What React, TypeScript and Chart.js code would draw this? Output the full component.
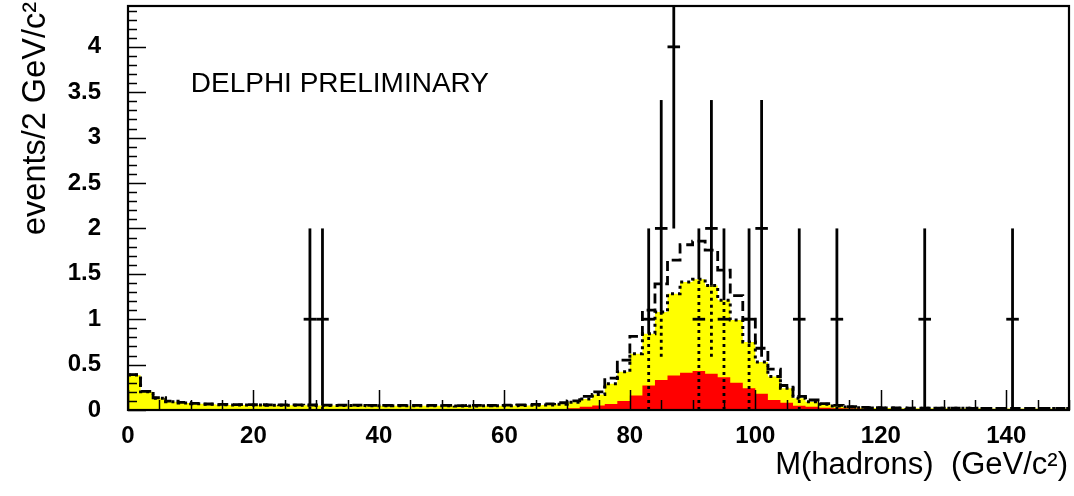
import React, { useEffect, useRef } from 'react';
import { Chart, registerables } from 'chart.js';

Chart.register(...registerables);

const X_MIN = 0;
const X_MAX = 150;
const BIN_WIDTH = 2;
const Y_MIN = 0;
const Y_MAX = 4.45;

// total expectation (yellow, dotted outline), 2 GeV/c^2 bins from 0 to 150
const yellowValues = [
  0.385, 0.200, 0.130, 0.092, 0.078, 0.068, 0.062, 0.058, 0.056, 0.055,
  0.054, 0.053, 0.052, 0.052, 0.051, 0.050, 0.050, 0.049, 0.049, 0.048,
  0.048, 0.047, 0.047, 0.046, 0.046, 0.046, 0.045, 0.045, 0.046, 0.047,
  0.048, 0.050, 0.053, 0.056, 0.062, 0.085, 0.120, 0.170, 0.290, 0.420,
  0.620, 0.840, 1.080, 1.280, 1.410, 1.440, 1.370, 1.210, 0.990, 0.750,
  0.530, 0.370, 0.240, 0.130, 0.090, 0.062, 0.044, 0.032, 0.026, 0.023,
  0.021, 0.020, 0.020, 0.019, 0.019, 0.018, 0.018, 0.018, 0.017, 0.017,
  0.017, 0.016, 0.016, 0.016, 0.016,
];

// red component
const redValues = [
  0.010, 0.008, 0.007, 0.006, 0.006, 0.005, 0.005, 0.005, 0.005, 0.005,
  0.005, 0.005, 0.005, 0.005, 0.005, 0.005, 0.005, 0.005, 0.005, 0.005,
  0.005, 0.005, 0.005, 0.005, 0.005, 0.005, 0.005, 0.005, 0.006, 0.006,
  0.007, 0.008, 0.009, 0.010, 0.012, 0.020, 0.035, 0.050, 0.065, 0.100,
  0.160, 0.270, 0.330, 0.380, 0.410, 0.430, 0.400, 0.360, 0.300, 0.240,
  0.180, 0.110, 0.080, 0.048, 0.035, 0.026, 0.020, 0.016, 0.013, 0.012,
  0.012, 0.011, 0.011, 0.011, 0.010, 0.010, 0.010, 0.010, 0.010, 0.010,
  0.010, 0.010, 0.010, 0.010, 0.010,
];

// dashed expectation
const dashedValues = [
  0.390, 0.205, 0.135, 0.098, 0.083, 0.072, 0.066, 0.062, 0.060, 0.059,
  0.058, 0.057, 0.056, 0.056, 0.055, 0.054, 0.054, 0.053, 0.053, 0.052,
  0.052, 0.051, 0.051, 0.050, 0.050, 0.050, 0.049, 0.050, 0.051, 0.052,
  0.054, 0.057, 0.062, 0.068, 0.080, 0.100, 0.150, 0.200, 0.350, 0.550,
  0.810, 1.100, 1.390, 1.650, 1.820, 1.860, 1.760, 1.540, 1.260, 1.000,
  0.680, 0.450, 0.270, 0.150, 0.110, 0.070, 0.050, 0.036, 0.028, 0.025,
  0.023, 0.022, 0.021, 0.021, 0.020, 0.020, 0.020, 0.019, 0.019, 0.019,
  0.018, 0.018, 0.018, 0.018, 0.018,
];

// observed data (bin centres and counts)
const dataX = [29, 31, 83, 85, 87, 91, 93, 95, 99, 101, 107, 113, 127, 141];
const dataY = [1, 1, 1, 2, 4, 1, 2, 1, 1, 2, 1, 1, 1, 1];

const xTickLabels = [0, 20, 40, 60, 80, 100, 120, 140];
const yTickLabels = [0, 0.5, 1, 1.5, 2, 2.5, 3, 3.5, 4];

const X_TITLE = 'M(hadrons)  (GeV/c²)';
const Y_TITLE = 'events/2 GeV/c²';
const PLOT_LABEL = 'DELPHI PRELIMINARY';

const FONT_FAMILY = '"Liberation Sans", Arial, Helvetica, sans-serif';

function toSteps(values: number[]) {
  const pts = values.map((v, i) => ({ x: X_MIN + i * BIN_WIDTH, y: v }));
  pts.push({ x: X_MAX, y: values[values.length - 1] });
  return pts;
}

function line(ctx: CanvasRenderingContext2D, x1: number, y1: number, x2: number, y2: number) {
  ctx.beginPath();
  ctx.moveTo(x1, y1);
  ctx.lineTo(x2, y2);
  ctx.stroke();
}

const errorBarsPlugin = {
  id: 'errorBars',
  afterDatasetsDraw(chart: any) {
    const { ctx, chartArea } = chart;
    const xs = chart.scales.x;
    const ys = chart.scales.y;
    ctx.save();
    ctx.beginPath();
    ctx.rect(chartArea.left, chartArea.top, chartArea.right - chartArea.left, chartArea.bottom - chartArea.top);
    ctx.clip();
    ctx.strokeStyle = '#000';
    ctx.lineWidth = 2.8;
    ctx.lineCap = 'butt';
    dataX.forEach((xv, i) => {
      const v = dataY[i];
      const e = Math.sqrt(v);
      const lo = Math.max(Y_MIN, v - e);
      const hi = v + e;
      const bin = Math.floor((xv - X_MIN) / BIN_WIDTH);
      const mc = yellowValues[bin];
      const px = xs.getPixelForValue(xv);
      const solidLo = Math.max(lo, mc);
      if (hi > solidLo) {
        ctx.setLineDash([]);
        line(ctx, px, ys.getPixelForValue(solidLo), px, ys.getPixelForValue(hi));
      }
      if (lo < mc) {
        ctx.setLineDash([3, 4]);
        line(ctx, px, ys.getPixelForValue(lo), px, ys.getPixelForValue(Math.min(hi, mc)));
      }
      ctx.setLineDash([]);
      const py = ys.getPixelForValue(v);
      line(ctx, xs.getPixelForValue(xv - BIN_WIDTH / 2), py, xs.getPixelForValue(xv + BIN_WIDTH / 2), py);
    });
    ctx.restore();
  },
};

const axisFramePlugin = {
  id: 'axisFrame',
  afterDatasetsDraw(chart: any) {
    const { ctx, chartArea } = chart;
    const { left, right, top, bottom } = chartArea;
    const xs = chart.scales.x;
    const ys = chart.scales.y;
    ctx.save();
    ctx.strokeStyle = '#000';
    ctx.setLineDash([]);
    ctx.lineWidth = 1.5;
    const xMinor = 5;
    const xMajor = 20;
    for (let v = X_MIN; v <= X_MAX + 1e-9; v += xMinor) {
      const px = Math.round(xs.getPixelForValue(v)) + 0.5;
      const len = v % xMajor === 0 ? 20 : 10;
      line(ctx, px, bottom, px, bottom - len);
    }
    const nY = Math.floor((Y_MAX - Y_MIN) / 0.1 + 1e-9);
    for (let k = 0; k <= nY; k++) {
      const v = Y_MIN + k * 0.1;
      const py = Math.round(ys.getPixelForValue(v)) + 0.5;
      const len = k % 5 === 0 ? 18 : 9;
      line(ctx, left, py, left + len, py);
    }
    ctx.lineWidth = 2.2;
    ctx.strokeRect(left, top, right - left, bottom - top);
    ctx.restore();
  },
};

const textPlugin = {
  id: 'texts',
  afterDraw(chart: any) {
    const { ctx, chartArea } = chart;
    const xs = chart.scales.x;
    const ys = chart.scales.y;
    ctx.save();
    ctx.fillStyle = '#000';
    ctx.textBaseline = 'alphabetic';
    ctx.font = `28px ${FONT_FAMILY}`;
    ctx.textAlign = 'left';
    ctx.fillText(PLOT_LABEL, xs.getPixelForValue(10), ys.getPixelForValue(3.5));

    ctx.font = `31px ${FONT_FAMILY}`;
    ctx.textAlign = 'right';
    ctx.fillText(X_TITLE, chartArea.right - 1, 474);

    ctx.font = `32.5px ${FONT_FAMILY}`;
    ctx.translate(45, 2);
    ctx.rotate(-Math.PI / 2);
    ctx.textAlign = 'right';
    ctx.fillText(Y_TITLE, 0, 0);
    ctx.restore();
  },
};

export default function App() {
  const canvasRef = useRef<HTMLCanvasElement | null>(null);

  useEffect(() => {
    const canvas = canvasRef.current;
    if (!canvas) return;
    const tickFont = { family: FONT_FAMILY, size: 24, weight: 'bold' as const };
    const chart = new Chart(canvas, {
      type: 'line',
      data: {
        datasets: [
          {
            label: 'dashed',
            data: toSteps(dashedValues),
            stepped: true,
            borderColor: '#000',
            borderWidth: 2.8,
            borderDash: [10, 5],
            fill: false,
            pointRadius: 0,
            order: 1,
          },
          {
            label: 'red',
            data: toSteps(redValues),
            stepped: true,
            borderColor: 'rgba(0,0,0,0)',
            borderWidth: 1,
            backgroundColor: '#ff0000',
            fill: 'origin',
            pointRadius: 0,
            order: 2,
          },
          {
            label: 'yellow',
            data: toSteps(yellowValues),
            stepped: true,
            borderColor: '#000',
            borderWidth: 3,
            borderDash: [3, 4],
            backgroundColor: '#ffff00',
            fill: 'origin',
            pointRadius: 0,
            order: 3,
          },
        ] as any,
      },
      options: {
        animation: false,
        responsive: false,
        events: [],
        layout: { autoPadding: false, padding: { top: 6, right: 5, left: 0, bottom: 0 } },
        plugins: {
          legend: { display: false },
          tooltip: { enabled: false },
        },
        scales: {
          x: {
            type: 'linear',
            min: X_MIN,
            max: X_MAX,
            grid: { display: false, drawTicks: false },
            border: { display: false },
            afterBuildTicks: (s: any) => {
              s.ticks = xTickLabels.map((v) => ({ value: v }));
            },
            afterFit: (s: any) => {
              s.height = 86;
              s.paddingLeft = 0;
              s.paddingRight = 0;
              s.paddingTop = 0;
              s.paddingBottom = 0;
            },
            ticks: {
              color: '#000',
              font: tickFont,
              padding: 12,
              maxRotation: 0,
              autoSkip: false,
              callback: (v: any) => String(v),
            },
          },
          y: {
            type: 'linear',
            min: Y_MIN,
            max: Y_MAX,
            grid: { display: false, drawTicks: false },
            border: { display: false },
            afterBuildTicks: (s: any) => {
              s.ticks = yTickLabels.map((v) => ({ value: v }));
            },
            afterFit: (s: any) => {
              s.width = 128;
              s.paddingLeft = 0;
              s.paddingRight = 0;
              s.paddingTop = 0;
              s.paddingBottom = 0;
            },
            ticks: {
              color: '#000',
              font: tickFont,
              padding: 27,
              autoSkip: false,
              callback: (v: any) => String(v),
            },
          },
        },
      } as any,
      plugins: [errorBarsPlugin, axisFramePlugin, textPlugin],
    });
    return () => {
      chart.destroy();
    };
  }, []);

  return (
    <div style={{ position: 'absolute', left: 0, top: 0, width: 1074, height: 496, background: '#fff' }}>
      <canvas ref={canvasRef} width={1074} height={496} style={{ display: 'block' }} />
    </div>
  );
}
